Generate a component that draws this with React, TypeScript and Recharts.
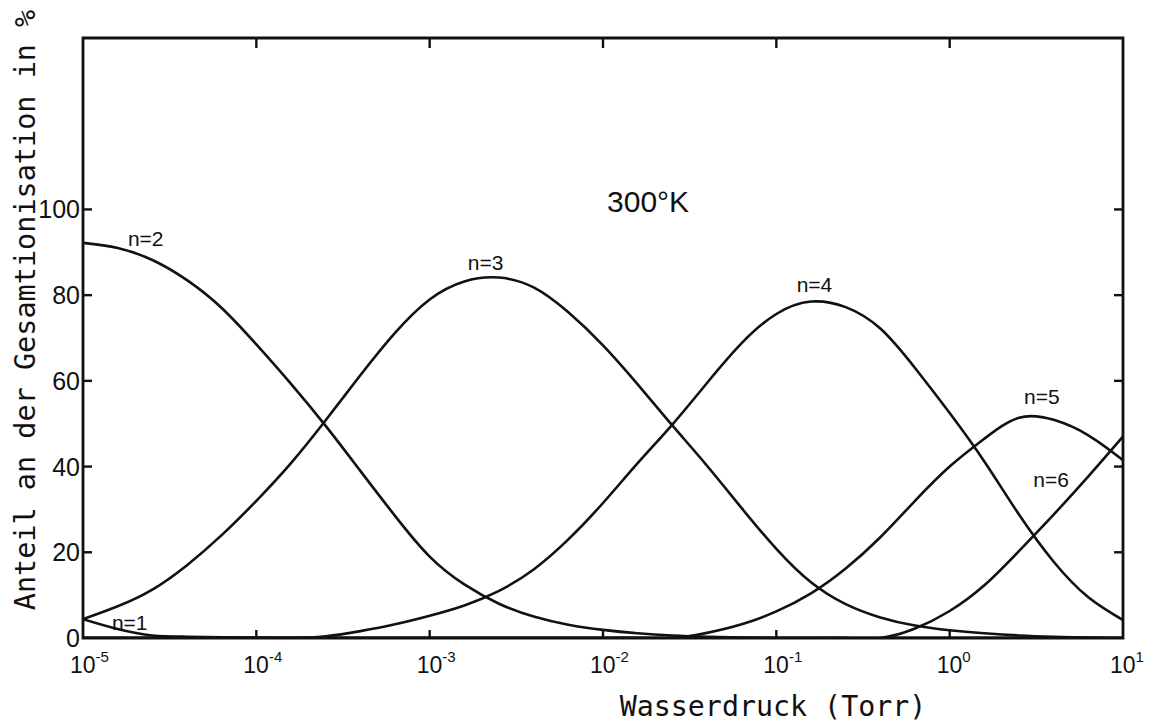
import React from 'react';
import { LineChart, Line, XAxis, YAxis, ReferenceArea, ReferenceDot } from 'recharts';

// Anteil der Cluster-Ionen H+(H2O)n an der Gesamtionisation, 300 K
const WIDTH = 1153;
const HEIGHT = 728;
const MARGIN = { top: 38, right: 30, bottom: 0, left: 0 };
const Y_AXIS_WIDTH = 83;
const X_AXIS_HEIGHT = 90;
const PLOT_TOP = MARGIN.top;
const PLOT_RIGHT = WIDTH - MARGIN.right;

const INK = '#111';
const SANS = '"Liberation Sans", Arial, sans-serif';
const MONO = '"DejaVu Sans Mono", "Liberation Mono", monospace';

// axis ticks
const pressureTicks = [1e-5, 1e-4, 1e-3, 1e-2, 1e-1, 1, 10];
const pressureExponents = ['-5', '-4', '-3', '-2', '-1', '0', '1'];
const shareTicks = [0, 20, 40, 60, 80, 100];

// Wasserdruck in Torr (fünf Stützstellen je Dekade)
const pressure = [
  1e-5, 1.585e-5, 2.512e-5, 3.981e-5, 6.31e-5,
  1e-4, 1.585e-4, 2.512e-4, 3.981e-4, 6.31e-4,
  1e-3, 1.585e-3, 2.512e-3, 3.981e-3, 6.31e-3,
  1e-2, 1.585e-2, 2.512e-2, 3.981e-2, 6.31e-2,
  1e-1, 1.585e-1, 2.512e-1, 3.981e-1, 6.31e-1,
  1, 1.585, 2.512, 3.981, 6.31,
  10,
];

// Anteil an der Gesamtionisation in %
const shareN1 = [
  4.4, 2.1, 0.6, 0.3, 0.15,
  0.1, 0.05, 0, 0, 0,
  0, 0, 0, 0, 0,
  0, 0, 0, 0, 0,
  0, 0, 0, 0, 0,
  0, 0, 0, 0, 0,
  0,
];
const shareN2 = [
  92.2, 91, 88.2, 83.5, 77,
  68.5, 59.3, 49.5, 39, 28.5,
  19, 12.5, 8, 5, 3.1,
  1.9, 1.1, 0.6, 0.3, 0.1,
  0, 0, 0, 0, 0,
  0, 0, 0, 0, 0,
  0,
];
const shareN3 = [
  4.4, 7.4, 11.3, 17, 24,
  32, 40.8, 50.8, 61.3, 71.2,
  79, 83.2, 84.1, 81.8, 76,
  68.3, 59.2, 49.6, 40.2, 30.3,
  20.8, 13, 7.9, 4.8, 2.9,
  1.8, 1.1, 0.6, 0.3, 0.1,
  0,
];
const shareN4 = [
  0, 0, 0, 0, 0,
  0, 0, 0.4, 1.6, 3.2,
  5.2, 7.6, 11, 16, 23,
  31.5, 40.8, 49.8, 59.5, 68.8,
  75.6, 78.5, 77.2, 72.2, 63,
  52.5, 41.2, 28.8, 17.8, 9.5,
  4.2,
];
const shareN5 = [
  0, 0, 0, 0, 0,
  0, 0, 0, 0, 0,
  0, 0, 0, 0, 0,
  0, 0, 0, 1.2, 3.2,
  6.2, 10.4, 16.2, 23.5, 32,
  40, 46.5, 51.4, 50.9, 47.3,
  41.5,
];
const shareN6 = [
  0, 0, 0, 0, 0,
  0, 0, 0, 0, 0,
  0, 0, 0, 0, 0,
  0, 0, 0, 0, 0,
  0, 0, 0, 0, 2.2,
  6.3, 12.3, 20.3, 28.8, 37.7,
  47,
];

// curve labels: text, pressure, share
const curveLabels: [string, number, number][] = [
  ['n=1', 1.86e-5, 1.8],
  ['n=2', 2.3e-5, 91.5],
  ['n=3', 2.1e-3, 85.8],
  ['n=4', 1.66e-1, 80.7],
  ['n=5', 3.4, 54.7],
  ['n=6', 3.85, 35.2],
];
const temperatureLabel = '300°K';
const temperaturePos: [number, number] = [1.82e-2, 99.5];

const rows = pressure.map((p, i) => ({
  p,
  n1: shareN1[i],
  n2: shareN2[i],
  n3: shareN3[i],
  n4: shareN4[i],
  n5: shareN5[i],
  n6: shareN6[i],
}));
const seriesKeys = ['n1', 'n2', 'n3', 'n4', 'n5', 'n6'];

function PressureTick(props: any) {
  const { x, y, payload } = props;
  const i = pressureTicks.indexOf(payload.value);
  const inner = i > 0 && i < pressureTicks.length - 1;
  return (
    <g>
      {inner && <line x1={x} y1={y} x2={x} y2={y - 8} stroke={INK} strokeWidth={2.4} />}
      {inner && <line x1={x} y1={PLOT_TOP} x2={x} y2={PLOT_TOP + 10} stroke={INK} strokeWidth={2.4} />}
      <text x={x - 13} y={y + 35} fontFamily={SANS} fontSize={23} fill={INK}>
        10
        <tspan fontSize={15} dy={-11}>{pressureExponents[i]}</tspan>
      </text>
    </g>
  );
}

function ShareTick(props: any) {
  const { x, y, payload } = props;
  const inner = payload.value > 0;
  return (
    <g>
      {inner && <line x1={x} y1={y} x2={x + 9} y2={y} stroke={INK} strokeWidth={2.4} />}
      {inner && <line x1={PLOT_RIGHT} y1={y} x2={PLOT_RIGHT - 9} y2={y} stroke={INK} strokeWidth={2.4} />}
      <text x={x - 3} y={y + 9} textAnchor="end" fontFamily={SANS} fontSize={25} fill={INK}>
        {payload.value}
      </text>
    </g>
  );
}

const textShape = (text: string, size: number) => (props: any) => (
  <text
    x={props.cx}
    y={props.cy}
    textAnchor="middle"
    fontFamily={SANS}
    fontSize={size}
    fill={INK}
  >
    {text}
  </text>
);

export default function App() {
  return (
    <div style={{ position: 'absolute', left: 0, top: 0, width: WIDTH, height: HEIGHT, background: '#fff' }}>
      <LineChart width={WIDTH} height={HEIGHT} margin={MARGIN} data={rows}>
        <XAxis
          dataKey="p"
          type="number"
          scale="log"
          domain={[1e-5, 10]}
          ticks={pressureTicks}
          allowDataOverflow
          axisLine={false}
          tickLine={false}
          tickSize={0}
          tickMargin={0}
          height={X_AXIS_HEIGHT}
          tick={<PressureTick />}
          interval={0}
        />
        <YAxis
          type="number"
          domain={[0, 140]}
          ticks={shareTicks}
          allowDataOverflow
          axisLine={false}
          tickLine={false}
          tickSize={0}
          tickMargin={0}
          width={Y_AXIS_WIDTH}
          tick={<ShareTick />}
          interval={0}
        />
        <ReferenceArea
          x1={1e-5}
          x2={10}
          y1={0}
          y2={140}
          fill="none"
          fillOpacity={0}
          stroke={INK}
          strokeWidth={2.8}
          ifOverflow="visible"
        />
        {seriesKeys.map((k) => (
          <Line
            key={k}
            dataKey={k}
            type="natural"
            stroke={INK}
            strokeWidth={2.6}
            dot={false}
            activeDot={false}
            isAnimationActive={false}
          />
        ))}
        {curveLabels.map(([t, p, v]) => (
          <ReferenceDot key={t} x={p} y={v} r={0} ifOverflow="visible" shape={textShape(t, 21)} />
        ))}
        <ReferenceDot
          x={temperaturePos[0]}
          y={temperaturePos[1]}
          r={0}
          ifOverflow="visible"
          shape={textShape(temperatureLabel, 30)}
        />
        <text
          x={773}
          y={716}
          textAnchor="middle"
          fontFamily={MONO}
          fontSize={28.3}
          fill={INK}
        >
          Wasserdruck (Torr)
        </text>
        <text
          transform="translate(35 310) rotate(-90)"
          textAnchor="middle"
          fontFamily={MONO}
          fontSize={28.5}
          fill={INK}
        >
          Anteil an der Gesamtionisation in %
        </text>
      </LineChart>
    </div>
  );
}
